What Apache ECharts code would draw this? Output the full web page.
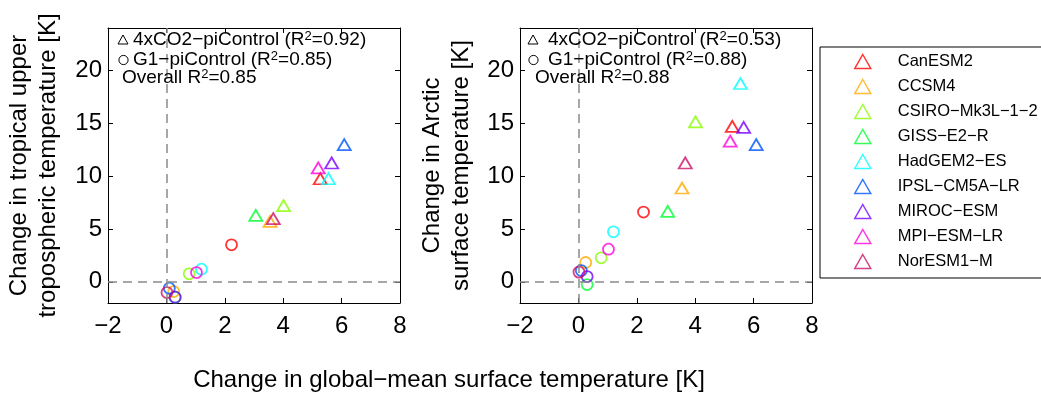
<!DOCTYPE html>
<html>
<head>
<meta charset="utf-8">
<script src="https://cdn.jsdelivr.net/npm/echarts@6/dist/echarts.min.js"></script>
<style>
  html, body { margin: 0; padding: 0; background: #fff; }
  #chart { width: 1041px; height: 393px; }
</style>
</head>
<body>
<div id="chart"></div>
<script>
// Models and their colours
const models = ['CanESM2', 'CCSM4', 'CSIRO\u2212Mk3L\u22121\u22122', 'GISS\u2212E2\u2212R', 'HadGEM2\u2212ES',
                'IPSL\u2212CM5A\u2212LR', 'MIROC\u2212ESM', 'MPI\u2212ESM\u2212LR', 'NorESM1\u2212M'];
const modelColors = ['#ff0000', '#ffaa00', '#88ff00', '#00ff33', '#00ffff',
                     '#0055ff', '#7700ff', '#ff00dd', '#cc1166'];

// Change in global-mean surface temperature [K]
const dTglobal4x = [5.27, 3.55, 4.01, 3.06, 5.55, 6.09, 5.66, 5.20, 3.66];
const dTglobalG1 = [2.23, 0.25, 0.78, 0.30, 1.20, 0.10, 0.30, 1.03, 0.02];

// Change in tropical upper tropospheric temperature [K]
const dTtropUpper4x = [9.75, 5.71, 7.20, 6.28, 9.75, 12.97, 11.24, 10.77, 5.97];
const dTtropUpperG1 = [3.50, -0.92, 0.76, -1.45, 1.20, -0.60, -1.45, 0.88, -1.01];

// Change in Arctic surface temperature [K]
const dTarctic4x = [14.70, 8.87, 15.12, 6.66, 18.75, 12.97, 14.60, 13.30, 11.24];
const dTarcticG1 = [6.60, 1.83, 2.27, -0.26, 4.73, 1.07, 0.50, 3.09, 0.92];

// Axis ranges and ticks
const xRange = [-2, 8];
const xInterval = 2;
const yRange = [-2, 24];
const yTicks = [0, 5, 10, 15, 20];

// Panel statistics
const r2Left = { abrupt: '0.92', g1: '0.85', overall: '0.85' };
const r2Right = { abrupt: '0.53', g1: '0.88', overall: '0.88' };

const FONT = 'Liberation Sans, Arial, Helvetica, sans-serif';
const minus = v => String(v).replace('-', '\u2212');

const chart = echarts.init(document.getElementById('chart'), null, { renderer: 'canvas' });

function xAxes(grid) {
  const base = {
    gridIndex: grid, type: 'value', min: xRange[0], max: xRange[1], interval: xInterval,
    axisLine: { show: true, onZero: false, lineStyle: { color: '#000', width: 1 } },
    axisTick: { show: true, inside: true, length: 5, lineStyle: { color: '#000', width: 1 } },
    splitLine: { show: false }
  };
  return [
    Object.assign({}, base, {
      position: 'bottom',
      axisLabel: { show: true, color: '#000', fontSize: 24, fontFamily: FONT, margin: 11, formatter: minus }
    }),
    Object.assign({}, base, { position: 'top', axisLabel: { show: false } })
  ];
}

function yAxes(grid, name, gap) {
  const base = {
    gridIndex: grid, type: 'value', min: yRange[0], max: yRange[1],
    axisLine: { show: true, onZero: false, lineStyle: { color: '#000', width: 1 } },
    axisTick: { show: true, inside: true, length: 5, customValues: yTicks, lineStyle: { color: '#000', width: 1 } },
    splitLine: { show: false }
  };
  return [
    Object.assign({}, base, {
      position: 'left',
      name: name, nameLocation: 'middle', nameGap: gap,
      nameTextStyle: { color: '#000', fontSize: 24, fontFamily: FONT, lineHeight: 29 },
      axisLabel: { show: true, color: '#000', fontSize: 24, fontFamily: FONT, margin: 6,
                   customValues: yTicks, formatter: minus }
    }),
    Object.assign({}, base, { position: 'right', axisLabel: { show: false } })
  ];
}

// Dashed zero lines for each panel
function zeroLines(grid) {
  return {
    type: 'scatter', xAxisIndex: grid * 2, yAxisIndex: grid * 2, data: [], silent: true,
    markLine: {
      silent: true, symbol: ['none', 'none'], label: { show: false },
      lineStyle: { color: '#8a8a8a', width: 1.5, type: [9, 6] },
      emphasis: { disabled: true },
      data: [{ xAxis: 0 }, { yAxis: 0 }]
    }
  };
}

const series = [zeroLines(0), zeroLines(1)];
const panels = [
  { grid: 0, y4x: dTtropUpper4x, yG1: dTtropUpperG1 },
  { grid: 1, y4x: dTarctic4x, yG1: dTarcticG1 }
];
// Triangles (abrupt 4xCO2) first so the legend picks them up
models.forEach((m, i) => {
  panels.forEach(p => {
    series.push({
      name: m, type: 'scatter', xAxisIndex: p.grid * 2, yAxisIndex: p.grid * 2,
      symbol: 'triangle', symbolSize: [13, 11],
      itemStyle: { color: 'transparent', borderColor: modelColors[i], borderWidth: 1.8 },
      emphasis: { disabled: true },
      data: [[dTglobal4x[i], p.y4x[i]]]
    });
  });
});
// Circles (G1)
models.forEach((m, i) => {
  panels.forEach(p => {
    series.push({
      name: m, type: 'scatter', xAxisIndex: p.grid * 2, yAxisIndex: p.grid * 2,
      symbol: 'circle', symbolSize: 11,
      itemStyle: { color: 'transparent', borderColor: modelColors[i], borderWidth: 1.8 },
      emphasis: { disabled: true },
      data: [[dTglobalG1[i], p.yG1[i]]]
    });
  });
});

// Annotation block inside a panel: marker key and R^2 values
function annotation(x0, sym, txt, r2) {
  const rich = {
    n: { fontSize: 19, fontFamily: FONT, fill: '#000', lineHeight: 20 },
    s: { fontSize: 13, fontFamily: FONT, fill: '#000', lineHeight: 13, verticalAlign: 'top' }
  };
  const line = (y, x, str) => ({
    type: 'text', x: x, y: y, silent: true, z: 100,
    style: { text: str, rich: rich, verticalAlign: 'middle', align: 'left', fill: '#000' }
  });
  return [
    { type: 'polygon', silent: true, z: 100,
      shape: { points: [[sym, 35], [sym + 5, 44], [sym - 5, 44]] },
      style: { fill: 'none', stroke: '#000', lineWidth: 1 } },
    line(40, txt, '{n|4xCO2\u2212piControl (R}{s|2}{n|=' + r2.abrupt + ')}'),
    { type: 'circle', silent: true, z: 100,
      shape: { cx: sym + 0.5, cy: 60, r: 4.6 },
      style: { fill: 'none', stroke: '#000', lineWidth: 1 } },
    line(60, txt, '{n|G1\u2212piControl (R}{s|2}{n|=' + r2.g1 + ')}'),
    line(78, x0, '{n|Overall R}{s|2}{n|=' + r2.overall + '}')
  ];
}

const option = {
  animation: false,
  backgroundColor: '#fff',
  textStyle: { fontFamily: FONT },
  grid: [
    { left: 108, top: 28, width: 292, height: 275 },
    { left: 520, top: 28, width: 292, height: 275 }
  ],
  xAxis: [...xAxes(0), ...xAxes(1)],
  yAxis: [
    ...yAxes(0, 'Change in tropical upper\ntropospheric temperature [K]', 45),
    ...yAxes(1, 'Change in Arctic\nsurface temperature [K]', 44)
  ],
  legend: {
    orient: 'vertical', left: 820, top: 47, selectedMode: false,
    data: models,
    itemWidth: 16, itemHeight: 14, itemGap: 8,
    padding: [6, 4, 8, 34],
    borderColor: '#000', borderWidth: 1,
    itemStyle: { borderWidth: 1.5 },
    textStyle: { fontSize: 16.5, fontFamily: FONT, color: '#000', lineHeight: 14, padding: [0, 0, 0, 22] }
  },
  graphic: [
    ...annotation(122, 123, 133, r2Left),
    ...annotation(535, 533, 548, r2Right),
    { type: 'text', x: 449, y: 380, silent: true,
      style: { text: 'Change in global\u2212mean surface temperature [K]', fontSize: 24, fontFamily: FONT,
               fill: '#000', align: 'center', verticalAlign: 'middle' } }
  ],
  series: series
};

chart.setOption(option);
</script>
</body>
</html>
